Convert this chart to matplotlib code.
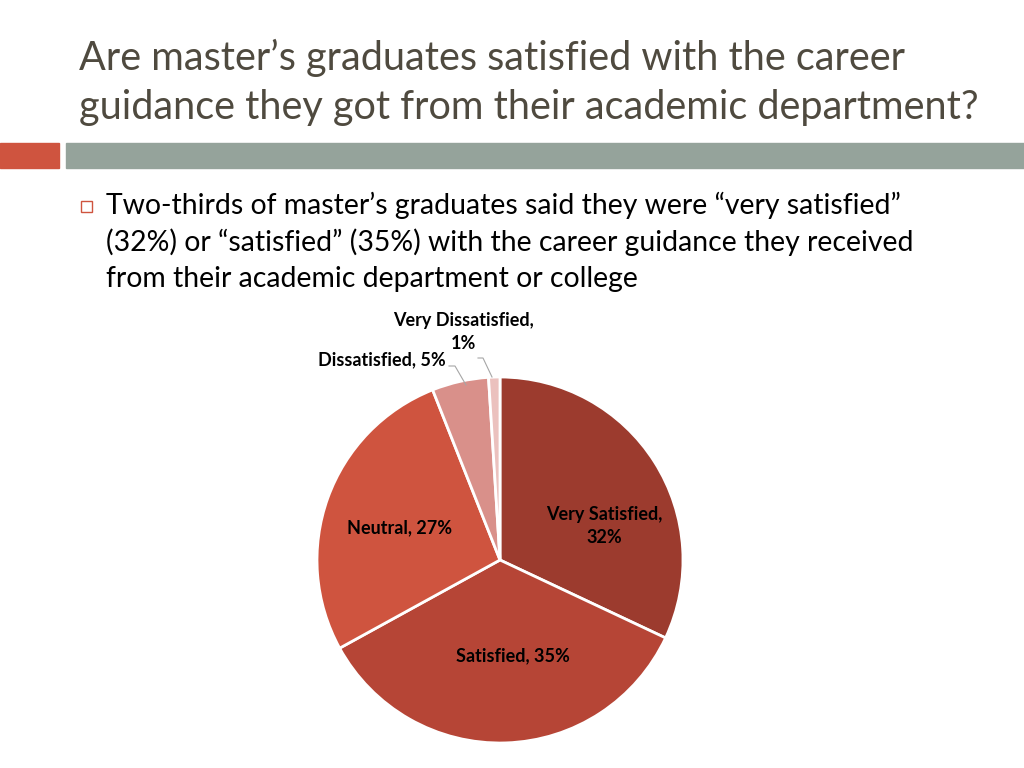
import matplotlib
matplotlib.use("Agg")
import matplotlib.pyplot as plt
from matplotlib.patches import Rectangle

categories = ["Very Satisfied", "Satisfied", "Neutral", "Dissatisfied", "Very Dissatisfied"]
values = [32, 35, 27, 5, 1]
colors = ["#9C3B2E", "#B64536", "#CF543F", "#D9908A", "#EBC1BE"]

title_lines = ["Are master\u2019s graduates satisfied with the career",
               "guidance they got from their academic department?"]
body_lines = ["Two-thirds of master\u2019s graduates said they were \u201cvery satisfied\u201d",
              "(32%) or \u201csatisfied\u201d (35%) with the career guidance they received",
              "from their academic department or college"]

plt.rcParams['font.family'] = ['Lato', 'DejaVu Sans']
W, H = 1024, 768
fig = plt.figure(figsize=(W/100, H/100), dpi=100)
fig.patch.set_facecolor("white")

def fx(px): return px / W
def fy(py): return 1 - py / H

# Title
for i, line in enumerate(title_lines):
    fig.text(fx(79), fy(58 + 50 * i), line, fontsize=28.5, color="#4F4A3F",
             va="center", ha="left")

# Decorative bars
fig.patches.append(Rectangle((fx(0), fy(168)), fx(59), (168-143)/H,
                             transform=fig.transFigure, color="#CF543F", zorder=1))
fig.patches.append(Rectangle((fx(66), fy(168)), 1 - fx(66), (168-143)/H,
                             transform=fig.transFigure, color="#95A39B", zorder=1))

# Bullet
fig.patches.append(Rectangle((fx(81), fy(212)), 11/W, 11/H, transform=fig.transFigure,
                             facecolor="none", edgecolor="#CF543F", linewidth=1.0))
for i, line in enumerate(body_lines):
    fig.text(fx(106), fy(205 + 37 * i), line, fontsize=20.4, color="black",
             va="center", ha="left")

# Pie
cx, cy, r = 500, 560, 183
ax = fig.add_axes([fx(cx - r), fy(cy + r), 2 * r / W, 2 * r / H])
wedges, _ = ax.pie(values, colors=colors, startangle=90, counterclock=False,
                   wedgeprops=dict(edgecolor="white", linewidth=2))
ax.set_xlim(-1, 1)
ax.set_ylim(-1, 1)
ax.set_aspect("equal")
ax.axis("off")

def d(px, py):
    return ((px - cx) / r, (cy - py) / r)

lab = [f"{c}, {v}%" for c, v in zip(categories, values)]
lab_kw = dict(fontsize=13, fontweight="bold", color="black", ha="center", va="center")
ax.text(*d(604, 526), "Very Satisfied,\n" + f"{values[0]}%", linespacing=1.45, **lab_kw)
ax.text(*d(513, 656), lab[1], **lab_kw)
ax.text(*d(400, 528), lab[2], **lab_kw)
ax.text(*d(382, 360), lab[3], **lab_kw)
ax.text(*d(463, 332), "Very Dissatisfied,\n" + f"{values[4]}%", linespacing=1.45, **lab_kw)

# Leader lines
lc = dict(color="#A6A6A6", linewidth=0.8, clip_on=False)
ax.plot(*zip(d(449, 366), d(455, 366), d(466, 385)), **lc)
ax.plot(*zip(d(478, 358), d(483, 358), d(492, 377)), **lc)

fig.savefig("out.png", dpi=100, facecolor="white")
